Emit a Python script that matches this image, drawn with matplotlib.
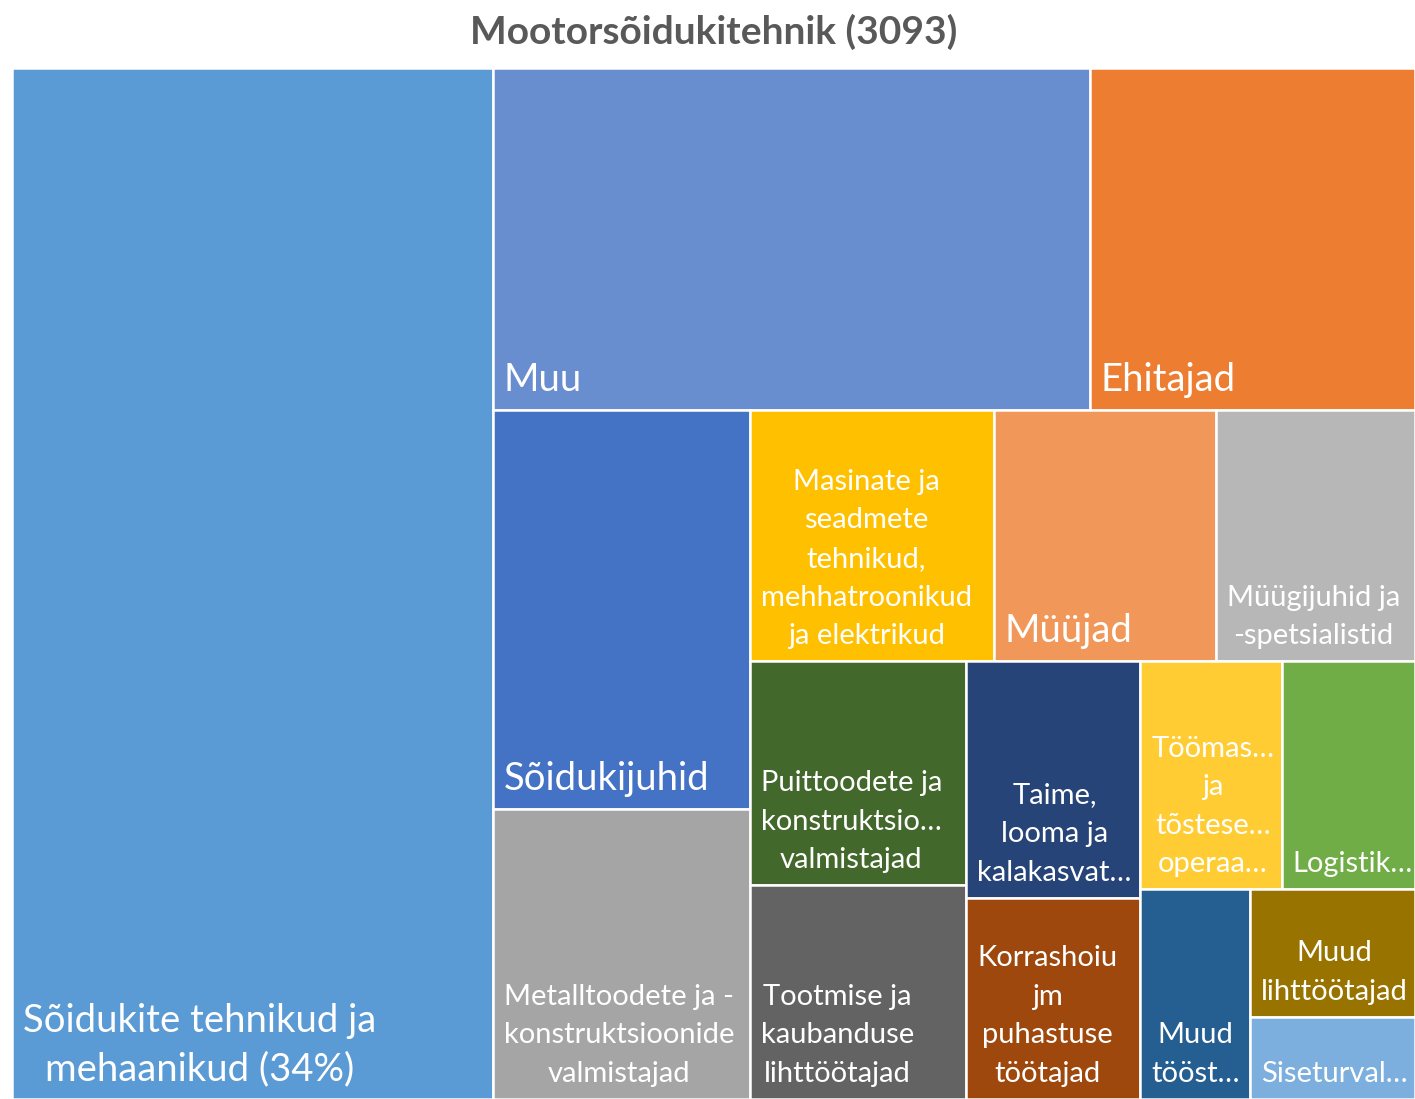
import matplotlib
matplotlib.use("Agg")
import matplotlib.pyplot as plt
from matplotlib.patches import Rectangle

# ---------------- data ----------------
title = "Mootorsõidukitehnik (3093)"
labels = [
    "Sõidukite tehnikud ja\nmehaanikud (34%)",
    "Muu",
    "Ehitajad",
    "Sõidukijuhid",
    "Metalltoodete ja -\nkonstruktsioonide\nvalmistajad",
    "Masinate ja\nseadmete\ntehnikud,\nmehhatroonikud\nja elektrikud",
    "Müüjad",
    "Müügijuhid ja\n-spetsialistid",
    "Puittoodete ja\nkonstruktsio…\nvalmistajad",
    "Tootmise ja\nkaubanduse\nlihttöötajad",
    "Taime,\nlooma ja\nkalakasvat…",
    "Korrashoiu\njm\npuhastuse\ntöötajad",
    "Töömas…\nja\ntõstese…\noperaa…",
    "Logistik…",
    "Muud\ntööst…",
    "Muud\nlihttöötajad",
    "Siseturval…",
]
values = [1060, 437, 238, 219, 159, 131, 119, 107, 104, 99, 88, 75, 69, 65, 49, 45, 29]

# ---------------- style ----------------
colors = ["#5B9BD5", "#698ED0", "#ED7D31", "#4472C4", "#A5A5A5", "#FFC000",
          "#F1975A", "#B7B7B7", "#43682B", "#636363", "#264478", "#9E480E",
          "#FFCD33", "#70AD47", "#255E91", "#997300", "#7CAFDD"]
big = [True, True, True, True, False, False, True, False, False, False,
       False, False, False, False, False, False, False]

FONT = "Lato"
W_PX, H_PX = 1415, 1099
AX_L, AX_T = 12, 68
W, H = W_PX - AX_L, H_PX - AX_T


def worst(row, side):
    s = sum(row)
    return max(max(side * side * r / (s * s), s * s / (side * side * r)) for r in row)


def squarify(areas, x, y, dx, dy):
    rects = []
    areas = list(areas)
    while areas:
        if len(areas) == 1:
            rects.append((x, y, dx, dy))
            break
        side = min(dx, dy)
        row = [areas[0]]
        i = 1
        while i < len(areas) and worst(row + [areas[i]], side) <= worst(row, side):
            row.append(areas[i])
            i += 1
        s = sum(row)
        if dx >= dy:
            w = s / dy
            yy = y
            for a in row:
                h = a / w
                rects.append((x, yy, w, h))
                yy += h
            x += w
            dx -= w
        else:
            h = s / dx
            xx = x
            for a in row:
                w = a / h
                rects.append((xx, y, w, h))
                xx += w
            y += h
            dy -= h
        areas = areas[i:]
    return rects


total = sum(values)
areas = [v * W * H / total for v in values]
rects = squarify(areas, 0, 0, W, H)

fig = plt.figure(figsize=(W_PX / 100, H_PX / 100), dpi=100)
ax = fig.add_axes([AX_L / W_PX, 0, W / W_PX, H / H_PX])
ax.set_xlim(0, W)
ax.set_ylim(H, 0)
ax.axis("off")

for (x, y, w, h), lab, c, b in zip(rects, labels, colors, big):
    ax.add_patch(Rectangle((x, y), w, h, facecolor=c, edgecolor="white", linewidth=1.8))
    ax.text(x + 11, y + h - (19 if b else 17), lab, color="white",
            fontsize=(27.5 if b else 21), family=FONT, ha="left", va="baseline",
            multialignment="center", linespacing=(1.42 if b else 1.6))

fig.text((AX_L + W / 2) / W_PX, 1 - 44 / H_PX, title, ha="center", va="baseline",
         fontsize=28, fontweight="bold", color="#595959", family=FONT)

fig.savefig("out.png", dpi=100)
